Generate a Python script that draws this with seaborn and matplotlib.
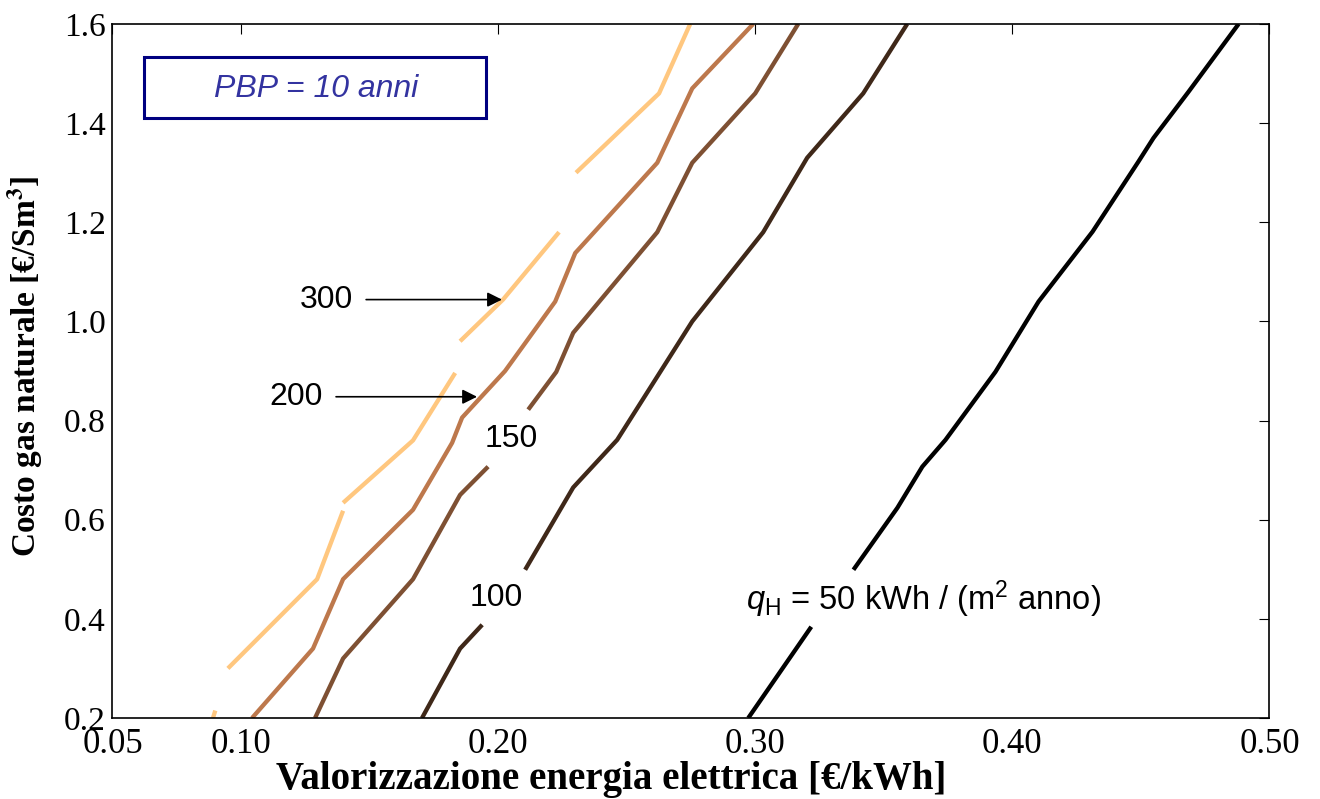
import numpy as np
import pandas as pd
import matplotlib
matplotlib.use("Agg")
import matplotlib.pyplot as plt
from matplotlib.patches import Rectangle
import seaborn as sns

nan = np.nan

# contour lines q_H (kWh/m2 anno), nan = label gap
x300 = [0.0891, 0.0900, nan, 0.0949, 0.1296, 0.1397, nan, 0.1397, 0.1669, 0.1833, nan,
        0.1852, 0.2019, 0.2237, nan, 0.2303, 0.2626, 0.2747]
y300 = [0.20, 0.215, nan, 0.30, 0.48, 0.618, nan, 0.634, 0.76, 0.896, nan,
        0.96, 1.044, 1.18, nan, 1.30, 1.46, 1.60]
x200 = [0.1043, 0.1280, 0.1397, 0.1669, 0.1821, 0.1860, 0.2027, 0.2222, 0.2300, 0.2619, 0.2755, 0.2992]
y200 = [0.20, 0.34, 0.48, 0.62, 0.755, 0.806, 0.90, 1.04, 1.138, 1.32, 1.47, 1.60]
x150 = [0.1288, 0.1397, 0.1669, 0.1852, 0.1961, nan, 0.2117, 0.2226, 0.2292, 0.2619, 0.2755, 0.3000, 0.3167]
y150 = [0.20, 0.32, 0.48, 0.65, 0.707, nan, 0.822, 0.898, 0.977, 1.18, 1.32, 1.46, 1.60]
x100 = [0.1704, 0.1852, 0.1938, nan, 0.2105, 0.2292, 0.2463, 0.2755, 0.3031, 0.3202, 0.3420, 0.3591]
y100 = [0.20, 0.34, 0.388, nan, 0.499, 0.665, 0.761, 1.00, 1.18, 1.33, 1.46, 1.60]
x50 = [0.2973, 0.3218, nan, 0.3382, 0.3553, 0.3650, 0.3740, 0.3934, 0.4102, 0.4312,
       0.4490, 0.4549, 0.4685, 0.4880]
y50 = [0.20, 0.384, nan, 0.499, 0.624, 0.707, 0.761, 0.898, 1.040, 1.181,
       1.322, 1.370, 1.463, 1.60]

levels = [50, 100, 150, 200, 300]
curves = {50: (x50, y50), 100: (x100, y100), 150: (x150, y150), 200: (x200, y200), 300: (x300, y300)}

xticks = [0.05, 0.10, 0.20, 0.30, 0.40, 0.50]
xticklabels = ["0.05", "0.10", "0.20", "0.30", "0.40", "0.50"]
yticks = [0.2, 0.4, 0.6, 0.8, 1.0, 1.2, 1.4, 1.6]
yticklabels = ["0.2", "0.4", "0.6", "0.8", "1.0", "1.2", "1.4", "1.6"]

rows = []
for q in levels:
    xs, ys = curves[q]
    seg = 0
    for x, y in zip(xs, ys):
        if np.isnan(x):
            seg += 1
            continue
        rows.append({"q": q, "seg": f"{q}-{seg}", "x": x, "y": y})
df = pd.DataFrame(rows)

cmap = sns.color_palette("copper", as_cmap=True)
palette = {q: cmap((q - 50) / 250) for q in levels}

sns.set_style("white")
plt.rcParams.update({
    "text.color": "black", "axes.labelcolor": "black",
    "xtick.color": "black", "ytick.color": "black",
    "mathtext.fontset": "custom",
    "mathtext.rm": "Liberation Sans",
    "mathtext.it": "Liberation Sans:italic",
})

fig = plt.figure(figsize=(13.2, 7.99), dpi=100)
ax = fig.add_axes([0.0852, 0.1014, 0.8765, 0.8686])

sns.lineplot(data=df, x="x", y="y", hue="q", units="seg", estimator=None, sort=False,
             palette=palette, linewidth=3.1, legend=False, ax=ax, solid_capstyle="butt")

ax.set_xlim(0.05, 0.50)
ax.set_ylim(0.2, 1.6)
ax.set_xticks(xticks)
ax.set_xticklabels(xticklabels, family="Liberation Serif", fontsize=25)
ax.set_yticks(yticks)
ax.set_yticklabels(yticklabels, family="Liberation Serif", fontsize=24)
ax.tick_params(direction="in", length=7, width=0.8, top=True, right=True)
ax.tick_params(axis="x", pad=7)
ax.tick_params(axis="y", pad=5)
for s in ax.spines.values():
    s.set_visible(True)
    s.set_color("black")
    s.set_linewidth(1.2)

ax.set_xlabel("Valorizzazione energia elettrica [€/kWh]", family="Liberation Serif",
              fontweight="bold", fontsize=28)
ax.xaxis.set_label_coords(0.431, -0.062)
ax.set_ylabel(r"Costo gas naturale [€/Sm$^\mathbf{3}$]", family="Liberation Serif",
              fontweight="bold", fontsize=24, math_fontfamily="stix")
ax.yaxis.set_label_coords(-0.058, 0.507)

lab = dict(family="Liberation Sans", fontsize=23, va="center", color="black")
arrow = dict(arrowstyle="-|>", color="black", lw=1.2, mutation_scale=22, shrinkA=7, shrinkB=0)
ax.annotate("300", xy=(0.2015, 1.044), xytext=(0.1436, 1.044), ha="right", arrowprops=arrow, **lab)
ax.annotate("200", xy=(0.1918, 0.848), xytext=(0.1319, 0.848), ha="right", arrowprops=arrow, **lab)
ax.text(0.1949, 0.763, "150", ha="left", **lab)
ax.text(0.1891, 0.443, "100", ha="left", **lab)
ax.text(0.2965, 0.439, r"$q_{\mathrm{H}}$ = 50 kWh / (m$^{2}$ anno)", ha="left",
        **{**lab, "fontsize": 23.5})

ax.add_patch(Rectangle((0.0272, 0.8646), 0.2956, 0.0873, transform=ax.transAxes,
                       fill=False, edgecolor="#000080", linewidth=2.2, zorder=5))
ax.text(0.176, 0.906, "PBP = 10 anni", transform=ax.transAxes, ha="center", va="center",
        family="Liberation Sans", style="italic", fontsize=23, color="#3333a0")

fig.savefig("out.png", dpi=100)
